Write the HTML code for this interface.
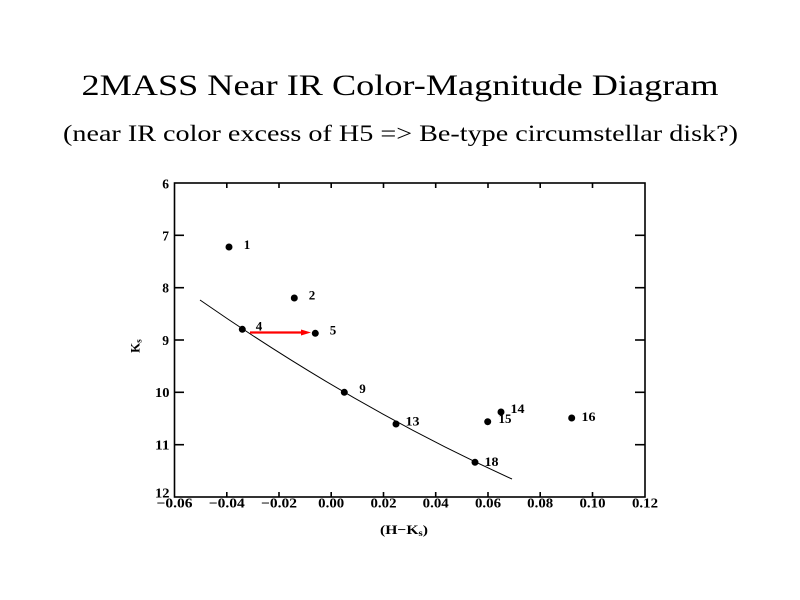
<!DOCTYPE html>
<html>
<head>
<meta charset="utf-8">
<style>
  html,body{margin:0;padding:0;background:#fff;}
  svg{display:block;}
</style>
</head>
<body>
<svg width="800" height="600" viewBox="0 0 800 600" xmlns="http://www.w3.org/2000/svg">
  <rect width="800" height="600" fill="#fff"/>
  <!-- Titles -->
  <text x="400" y="95" text-anchor="middle" font-family="'Liberation Serif', serif" font-size="30" textLength="637" lengthAdjust="spacingAndGlyphs" fill="#000">2MASS Near IR Color-Magnitude Diagram</text>
  <text x="400.5" y="141" text-anchor="middle" font-family="'Liberation Serif', serif" font-size="23.5" textLength="675" lengthAdjust="spacingAndGlyphs" fill="#000">(near IR color excess of H5 =&gt; Be-type circumstellar disk?)</text>

  <!-- Axes box -->
  <rect x="174.5" y="183" width="470.5" height="314" fill="none" stroke="#000" stroke-width="1.6"/>

  <g stroke="#000" stroke-width="1.6">
    <line x1="174.5" y1="235.3" x2="184" y2="235.3"/>
    <line x1="174.5" y1="287.7" x2="184" y2="287.7"/>
    <line x1="174.5" y1="340" x2="184" y2="340"/>
    <line x1="174.5" y1="392.3" x2="184" y2="392.3"/>
    <line x1="174.5" y1="444.7" x2="184" y2="444.7"/>
    <line x1="645" y1="235.3" x2="635" y2="235.3"/>
    <line x1="645" y1="287.7" x2="635" y2="287.7"/>
    <line x1="645" y1="340" x2="635" y2="340"/>
    <line x1="645" y1="392.3" x2="635" y2="392.3"/>
    <line x1="645" y1="444.7" x2="635" y2="444.7"/>
    <line x1="226.8" y1="183" x2="226.8" y2="188"/>
    <line x1="279" y1="183" x2="279" y2="188"/>
    <line x1="331.2" y1="183" x2="331.2" y2="188"/>
    <line x1="383.5" y1="183" x2="383.5" y2="188"/>
    <line x1="435.7" y1="183" x2="435.7" y2="188"/>
    <line x1="488" y1="183" x2="488" y2="188"/>
    <line x1="540.2" y1="183" x2="540.2" y2="188"/>
    <line x1="592.5" y1="183" x2="592.5" y2="188"/>
    <line x1="226.8" y1="497" x2="226.8" y2="492"/>
    <line x1="279" y1="497" x2="279" y2="492"/>
    <line x1="331.2" y1="497" x2="331.2" y2="492"/>
    <line x1="383.5" y1="497" x2="383.5" y2="492"/>
    <line x1="435.7" y1="497" x2="435.7" y2="492"/>
    <line x1="488" y1="497" x2="488" y2="492"/>
    <line x1="540.2" y1="497" x2="540.2" y2="492"/>
    <line x1="592.5" y1="497" x2="592.5" y2="492"/>
  </g>

  <!-- y tick labels -->
  <g font-family="'Liberation Serif', serif" font-size="13.5" font-weight="bold" fill="#000" text-anchor="end">
    <text x="169" y="188.5">6</text>
    <text x="169" y="240.5">7</text>
    <text x="169" y="292.5">8</text>
    <text x="169" y="345">9</text>
    <text x="169.5" y="397" textLength="14.5" lengthAdjust="spacingAndGlyphs">10</text>
    <text x="169.5" y="449.5" textLength="14.5" lengthAdjust="spacingAndGlyphs">11</text>
    <text x="169.5" y="497.5" textLength="14.5" lengthAdjust="spacingAndGlyphs">12</text>
  </g>

  <!-- x tick labels -->
  <g font-family="'Liberation Serif', serif" font-size="13.5" font-weight="bold" fill="#000" text-anchor="middle">
    <text x="174.5" y="507.5" textLength="36" lengthAdjust="spacingAndGlyphs">−0.06</text>
    <text x="226.8" y="507.5" textLength="36" lengthAdjust="spacingAndGlyphs">−0.04</text>
    <text x="279" y="507.5" textLength="36" lengthAdjust="spacingAndGlyphs">−0.02</text>
    <text x="331.2" y="507.5" textLength="26" lengthAdjust="spacingAndGlyphs">0.00</text>
    <text x="383.5" y="507.5" textLength="26" lengthAdjust="spacingAndGlyphs">0.02</text>
    <text x="435.7" y="507.5" textLength="26" lengthAdjust="spacingAndGlyphs">0.04</text>
    <text x="488" y="507.5" textLength="26" lengthAdjust="spacingAndGlyphs">0.06</text>
    <text x="540.2" y="507.5" textLength="26" lengthAdjust="spacingAndGlyphs">0.08</text>
    <text x="592.5" y="507.5" textLength="26" lengthAdjust="spacingAndGlyphs">0.10</text>
    <text x="645" y="507.5" textLength="26" lengthAdjust="spacingAndGlyphs">0.12</text>
  </g>

  <!-- axis titles -->
  <text x="404" y="534" text-anchor="middle" font-family="'Liberation Serif', serif" font-size="13" font-weight="bold" fill="#000" textLength="48" lengthAdjust="spacingAndGlyphs">(H−K<tspan font-size="9" dy="2">s</tspan><tspan dy="-2">)</tspan></text>
  <text transform="translate(139.5,346) rotate(-90)" text-anchor="middle" font-family="'Liberation Serif', serif" font-size="13" font-weight="bold" fill="#000">K<tspan font-size="9" dy="2">s</tspan></text>

  <!-- curve -->
  <path d="M200,300 Q356,408.4 512,479" fill="none" stroke="#000" stroke-width="1"/>

  <!-- arrow -->
  <line x1="250" y1="332.5" x2="303" y2="332.5" stroke="#f00" stroke-width="2.2"/>
  <polygon points="301,329.5 311,332.5 301,335.5" fill="#f00"/>

  <!-- points -->
  <g fill="#000">
    <circle cx="229" cy="247" r="3.5"/>
    <circle cx="294.3" cy="298" r="3.5"/>
    <circle cx="242.3" cy="329.3" r="3.5"/>
    <circle cx="315.3" cy="333.3" r="3.5"/>
    <circle cx="344.3" cy="392.3" r="3.5"/>
    <circle cx="396" cy="424" r="3.5"/>
    <circle cx="475" cy="462.3" r="3.5"/>
    <circle cx="501" cy="412" r="3.5"/>
    <circle cx="487.7" cy="421.7" r="3.5"/>
    <circle cx="571.7" cy="418" r="3.5"/>
  </g>

  <!-- point labels -->
  <g font-family="'Liberation Serif', serif" font-size="13" font-weight="bold" fill="#000" text-anchor="middle">
    <text x="247" y="249">1</text>
    <text x="312" y="299.5">2</text>
    <text x="259" y="330.5">4</text>
    <text x="333" y="334.5">5</text>
    <text x="362.5" y="393">9</text>
    <text x="412.5" y="425.5" textLength="14" lengthAdjust="spacingAndGlyphs">13</text>
    <text x="517.5" y="413" textLength="14" lengthAdjust="spacingAndGlyphs">14</text>
    <text x="505" y="423" textLength="13" lengthAdjust="spacingAndGlyphs">15</text>
    <text x="588.5" y="421" textLength="14" lengthAdjust="spacingAndGlyphs">16</text>
    <text x="491.5" y="466" textLength="14" lengthAdjust="spacingAndGlyphs">18</text>
  </g>
</svg>
</body>
</html>
